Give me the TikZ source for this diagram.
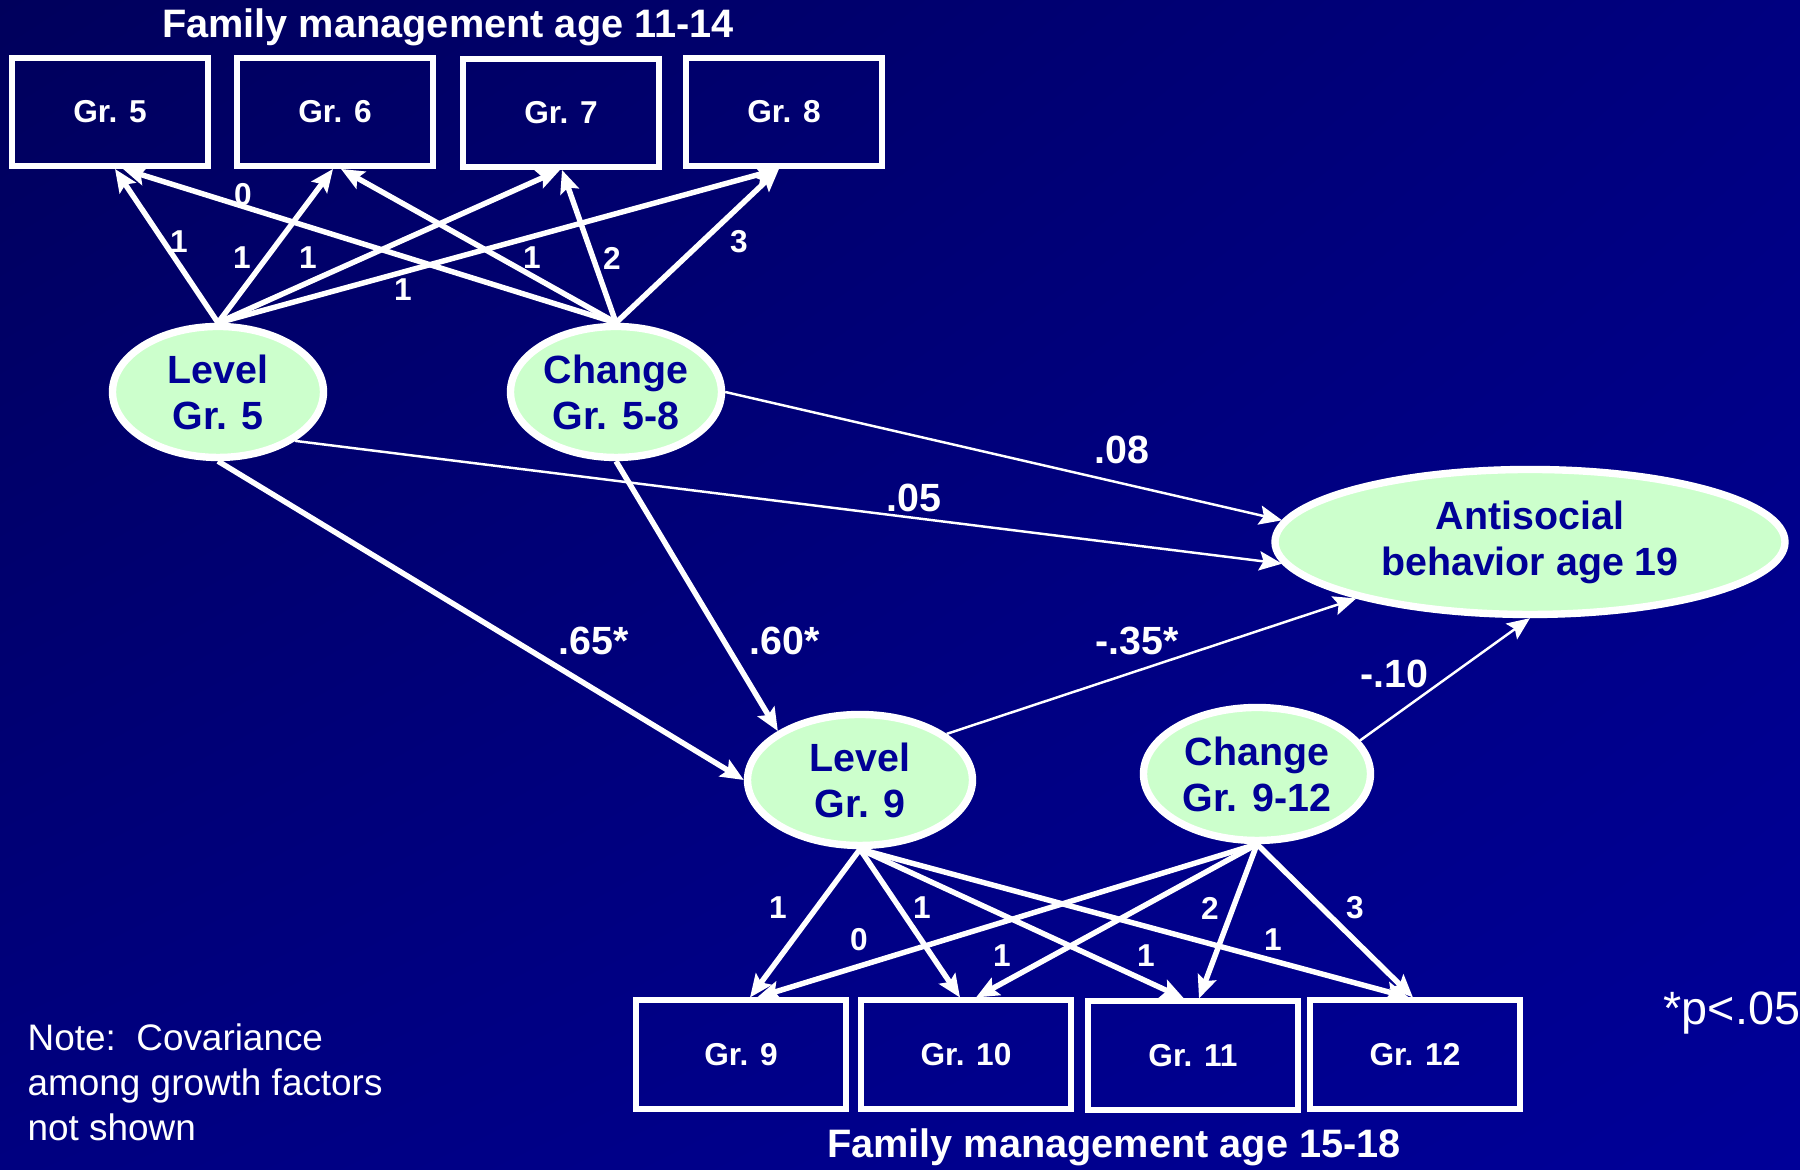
\documentclass[tikz,border=0pt]{standalone}
\usepackage{fontspec}
\setmainfont{Liberation Sans}
\usetikzlibrary{shapes.geometric,arrows.meta,shadings}
\definecolor{bgdark}{RGB}{0,0,92}
\definecolor{bgnavy}{RGB}{0,0,128}
\definecolor{bglight}{RGB}{0,0,152}
\definecolor{factorfill}{RGB}{204,255,204}
\definecolor{factortext}{RGB}{0,0,150}

\begin{document}
\begin{tikzpicture}[
    >={Stealth[length=6.5pt,width=5.5pt,inset=1.2pt]},
    obs/.style={draw=white, line width=1.7pt, minimum width=1.96cm, minimum height=1.08cm,
      text=white, font=\bfseries\fontsize{9}{11}\selectfont},
    latent/.style={ellipse, draw=white, line width=2.1pt, fill=factorfill, text=factortext,
      align=center, inner sep=0pt, font=\bfseries\fontsize{11.2}{13.1}\selectfont},
    load/.style={->, white, line width=1.55pt},
    reg/.style={->, white, line width=0.7pt},
    wt/.style={text=white, font=\bfseries\fontsize{9}{10}\selectfont},
    coef/.style={text=white, font=\bfseries\fontsize{11.2}{13}\selectfont}
  ]
  \useasboundingbox (0,0) rectangle (18,11.7);
  \shade[upper left=bgdark, upper right=bgnavy, lower left=bgnavy, lower right=bglight]
    (0,0) rectangle (18,11.7);

  % observed indicators, ages 11-14
  \node[text=white, font=\bfseries\fontsize{11.3}{13}\selectfont, anchor=base] (ttltop) at (4.48,11.32) {Family management age 11-14};
  \node[obs] (g5) at (1.10,10.58) {Gr. 5};
  \node[obs] (g6) at (3.35,10.58) {Gr. 6};
  \node[obs] (g7) at (5.61,10.57) {Gr. 7};
  \node[obs] (g8) at (7.84,10.58) {Gr. 8};

  % growth factors and outcome
  \node[latent, minimum width=2.11cm, minimum height=1.31cm] (lev5) at (2.18,7.78) {Level\\Gr. 5};
  \node[latent, minimum width=2.11cm, minimum height=1.31cm] (chg58) at (6.16,7.78) {Change\\Gr. 5-8};
  \node[latent, minimum width=5.10cm, minimum height=1.45cm] (anti) at (15.30,6.28) {Antisocial\\behavior age 19};
  \node[latent, minimum width=2.25cm, minimum height=1.31cm] (lev9) at (8.60,3.90) {Level\\Gr. 9};
  \node[latent, minimum width=2.27cm, minimum height=1.33cm] (chg912) at (12.57,3.96) {Change\\Gr. 9-12};

  % observed indicators, ages 15-18
  \node[obs, minimum width=2.10cm, minimum height=1.09cm] (g9) at (7.41,1.15) {Gr. 9};
  \node[obs, minimum width=2.10cm, minimum height=1.09cm] (g10) at (9.66,1.15) {Gr. 10};
  \node[obs, minimum width=2.10cm, minimum height=1.09cm] (g11) at (11.93,1.14) {Gr. 11};
  \node[obs, minimum width=2.10cm, minimum height=1.09cm] (g12) at (14.15,1.15) {Gr. 12};
  \node[text=white, font=\bfseries\fontsize{11.3}{13}\selectfont, anchor=base] (ttlbot) at (11.14,0.12) {Family management age 15-18};

  % loadings, first block
  \draw[load] (lev5.north) -- ([xshift=0.05cm]g5.south);
  \draw[load] (lev5.north) -- ([xshift=-0.02cm]g6.south);
  \draw[load] (lev5.north) -- ([xshift=-0.01cm]g7.south);
  \draw[load] (lev5.north) -- ([xshift=-0.05cm]g8.south);
  \draw[load] (chg58.north) -- ([xshift=0.13cm]g5.south);
  \draw[load] (chg58.north) -- ([xshift=0.06cm]g6.south);
  \draw[load] (chg58.north) -- ([xshift=0.01cm]g7.south);
  \draw[load] (chg58.north) -- ([xshift=-0.05cm]g8.south);
  \node[wt] at (1.79,9.28) {1};
  \node[wt] at (2.42,9.12) {1};
  \node[wt] at (3.08,9.12) {1};
  \node[wt] at (4.03,8.80) {1};
  \node[wt] at (2.43,9.75) {0};
  \node[wt] at (5.32,9.12) {1};
  \node[wt] at (6.12,9.12) {2};
  \node[wt] at (7.39,9.28) {3};

  % structural paths
  \draw[load] (lev5.south) -- (lev9.west);
  \draw[load] (chg58.south) -- (lev9.north west);
  \draw[reg] (lev5.south east) -- (anti.185);
  \draw[reg] (chg58.east) -- (anti.175);
  \draw[reg] (lev9.28) -- (anti.198);
  \draw[reg] (chg912.18) -- (anti.south);
  \node[coef] at (11.22,7.20) {.08};
  \node[coef] at (9.14,6.72) {.05};
  \node[coef] at (5.94,5.29) {.65*};
  \node[coef] at (7.85,5.29) {.60*};
  \node[coef] at (11.37,5.29) {-.35*};
  \node[coef] at (13.94,4.96) {-.10};

  % loadings, second block
  \draw[load] (lev9.south) -- ([xshift=0.09cm]g9.north);
  \draw[load] (lev9.south) -- ([xshift=-0.06cm]g10.north);
  \draw[load] (lev9.south) -- ([xshift=-0.09cm]g11.north);
  \draw[load] (lev9.south) -- ([xshift=-0.06cm]g12.north);
  \draw[load] (chg912.south) -- ([xshift=0.16cm]g9.north);
  \draw[load] (chg912.south) -- ([xshift=0.10cm]g10.north);
  \draw[load] (chg912.south) -- ([xshift=0.06cm]g11.north);
  \draw[load] (chg912.south) -- ([xshift=-0.02cm]g12.north);
  \node[wt] at (7.78,2.62) {1};
  \node[wt] at (9.22,2.62) {1};
  \node[wt] at (11.46,2.14) {1};
  \node[wt] at (12.73,2.30) {1};
  \node[wt] at (8.59,2.30) {0};
  \node[wt] at (10.02,2.14) {1};
  \node[wt] at (12.10,2.62) {2};
  \node[wt] at (13.55,2.62) {3};

  \node[text=white, font=\fontsize{10.5}{12.8}\selectfont, align=left, anchor=south west, inner sep=0pt] (note) at (0.27,0.28)
    {Note:\ \ Covariance\\among growth factors\\not shown};
  \node[text=white, font=\fontsize{13.3}{15}\selectfont, anchor=base west, inner sep=0pt] (sig) at (16.63,1.45) {*p<.05};
\end{tikzpicture}
\end{document}
